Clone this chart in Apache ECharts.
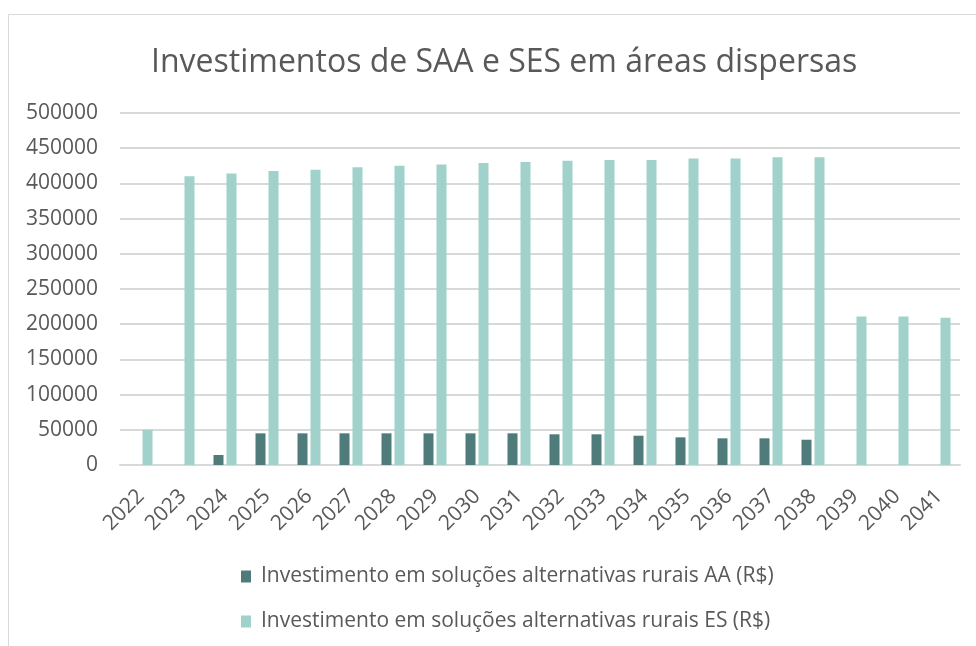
<!DOCTYPE html>
<html>
<head>
<meta charset="utf-8">
<script src="https://cdn.jsdelivr.net/npm/echarts@6/dist/echarts.min.js"></script>
<style>
  html, body { margin: 0; padding: 0; background: #fff; }
  #main { width: 976px; height: 646px; }
</style>
</head>
<body>
<div id="main"></div>
<script>
// anos
var anos = ['2022', '2023', '2024', '2025', '2026', '2027', '2028', '2029', '2030', '2031',
            '2032', '2033', '2034', '2035', '2036', '2037', '2038', '2039', '2040', '2041'];
// investimento AA (R$)
var investAA = [0, 0, 14200, 45000, 45000, 45000, 45000, 45000, 45000, 45000,
                43600, 43600, 41600, 39300, 37900, 37900, 35900, 0, 0, 0];
// investimento ES (R$)
var investES = [50000, 410000, 414000, 417500, 419300, 423000, 425000, 427000, 428800, 430300,
                432000, 433400, 433400, 435300, 435300, 437000, 437000, 211100, 211100, 209200];
var nomeAA = 'Investimento em soluções alternativas rurais AA (R$)';
var nomeES = 'Investimento em soluções alternativas rurais ES (R$)';

var fonte = '"Open Sans", sans-serif';
var myChart = echarts.init(document.getElementById('main'));
var option = {
    backgroundColor: '#fff',
    animation: false,
    textStyle: { fontFamily: fonte },
    // moldura cinza
    graphic: [{
        type: 'rect',
        shape: { x: 8.5, y: 14.5, width: 1000, height: 700 },
        style: { fill: 'none', stroke: '#d9d9d9', lineWidth: 1 },
        silent: true
    }],
    title: {
        text: 'Investimentos de SAA e SES em áreas dispersas',
        left: 146,
        top: 42,
        textStyle: { fontFamily: fonte, fontSize: 32, fontWeight: 'normal', color: '#595959' }
    },
    legend: {
        orient: 'vertical',
        left: 236,
        top: 561,
        itemWidth: 10,
        itemHeight: 12,
        itemGap: 24,
        icon: 'rect',
        textStyle: { fontFamily: fonte, fontSize: 21, color: '#595959', padding: [0, 0, 0, 5] },
        data: [nomeAA, nomeES]
    },
    grid: { left: 120, right: 16, top: 113, bottom: 181, containLabel: false },
    xAxis: {
        type: 'category',
        data: anos,
        axisLine: { lineStyle: { color: '#d9d9d9', width: 2 } },
        axisTick: { show: false },
        axisLabel: {
            rotate: 45,
            interval: 0,
            margin: 28,
            fontFamily: fonte,
            fontSize: 21,
            color: '#595959'
        }
    },
    yAxis: {
        type: 'value',
        min: 0,
        max: 500000,
        interval: 50000,
        axisLine: { show: false },
        axisTick: { show: false },
        splitLine: { lineStyle: { color: '#d9d9d9', width: 2 } },
        axisLabel: {
            margin: 22,
            fontFamily: fonte,
            fontSize: 21,
            color: '#595959',
            formatter: function (v) { return String(v); }
        }
    },
    series: [
        {
            name: nomeAA,
            type: 'bar',
            data: investAA,
            barWidth: 10,
            barGap: '30%',
            itemStyle: { color: '#4f7c7b' }
        },
        {
            name: nomeES,
            type: 'bar',
            data: investES,
            barWidth: 10,
            itemStyle: { color: '#a0d1ca' }
        }
    ]
};
myChart.setOption(option);
</script>
</body>
</html>
